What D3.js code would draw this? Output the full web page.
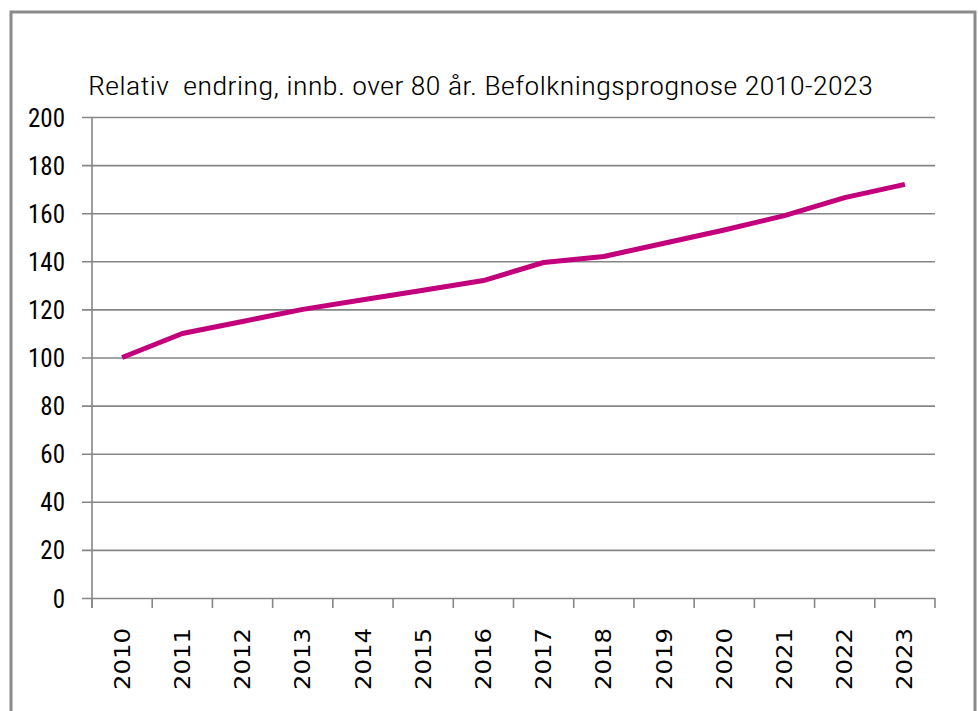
<!DOCTYPE html>
<html>
<head>
<meta charset="utf-8">
<script src="https://cdn.jsdelivr.net/npm/d3@7"></script>
<style>
  body { margin: 0; background: #fff; }
  svg text { fill: #000; }
</style>
</head>
<body>
<div id="chart"></div>
<script>
// chart data
const years = ["2010","2011","2012","2013","2014","2015","2016","2017","2018","2019","2020","2021","2022","2023"];
const values = [100, 110, 115, 120, 124, 128, 132, 139.5, 142, 147.5, 153, 159, 166.5, 172];
const yTicks = [0, 20, 40, 60, 80, 100, 120, 140, 160, 180, 200];
const title = "Relativ  endring, innb. over 80 år. Befolkningsprognose 2010-2023";

const width = 978;
const height = 711;
const margin = { top: 117, right: 43, bottom: 113, left: 92 };
const narrow = "'Liberation Sans Narrow', 'Roboto Condensed', sans-serif";

const svg = d3.select("#chart")
  .append("svg")
  .attr("width", width)
  .attr("height", height);

// outer frame
svg.append("rect")
  .attr("x", 11).attr("y", 12)
  .attr("width", 964).attr("height", 710)
  .attr("fill", "none")
  .attr("stroke", "#8a8a8a")
  .attr("stroke-width", 3);

const x = d3.scaleBand()
  .domain(years)
  .range([margin.left, width - margin.right]);

const y = d3.scaleLinear()
  .domain([0, 200])
  .range([height - margin.bottom, margin.top]);

// gridlines + y axis
const yAxis = svg.append("g")
  .attr("transform", `translate(${margin.left}, 0)`)
  .call(d3.axisLeft(y).tickValues(yTicks).tickSize(10).tickPadding(17)
    .tickFormat(d3.format("d")));
yAxis.select(".domain").remove();
yAxis.selectAll(".tick line").remove();
yAxis.selectAll(".tick").append("line")
  .attr("x1", -10)
  .attr("x2", width - margin.right - margin.left)
  .attr("stroke", "#868686")
  .attr("stroke-width", 1.6);
yAxis.selectAll("text")
  .style("font-family", narrow)
  .style("font-size", "25px")
  .attr("dy", "0.36em");

// vertical axis line
svg.append("line")
  .attr("x1", margin.left).attr("x2", margin.left)
  .attr("y1", y(200)).attr("y2", y(0) + 10)
  .attr("stroke", "#868686")
  .attr("stroke-width", 1.6);

// x axis
const xAxis = svg.append("g")
  .attr("transform", `translate(0, ${height - margin.bottom})`)
  .call(d3.axisBottom(x).tickSize(0).tickPadding(0));
xAxis.select(".domain").remove();
xAxis.selectAll("text")
  .style("font-family", "'DejaVu Sans', sans-serif")
  .style("font-size", "21px")
  .attr("transform", "rotate(-90)")
  .attr("text-anchor", "end")
  .attr("x", -30)
  .attr("y", 0)
  .attr("dy", "0.36em")
  .attr("textLength", 62)
  .attr("lengthAdjust", "spacingAndGlyphs");

// category tick marks between bands
const tickPos = years.map(d => x(d)).concat([x(years[years.length - 1]) + x.bandwidth()]);
svg.append("g")
  .selectAll("line")
  .data(tickPos)
  .join("line")
  .attr("x1", d => d).attr("x2", d => d)
  .attr("y1", y(0)).attr("y2", y(0) + 10)
  .attr("stroke", "#868686")
  .attr("stroke-width", 1.6);

// line
svg.append("path")
  .datum(values)
  .attr("fill", "none")
  .attr("stroke", "#c2007b")
  .attr("stroke-width", 5)
  .attr("stroke-linejoin", "round")
  .attr("d", d3.line()
    .x((d, i) => x(years[i]) + x.bandwidth() / 2)
    .y(d => y(d)));

// title
svg.append("text")
  .attr("x", 88)
  .attr("y", 95)
  .attr("xml:space", "preserve")
  .attr("textLength", 785)
  .attr("lengthAdjust", "spacingAndGlyphs")
  .style("white-space", "pre")
  .style("font-family", narrow)
  .style("font-weight", "300")
  .style("font-size", "26px")
  .text(title);
</script>
</body>
</html>
